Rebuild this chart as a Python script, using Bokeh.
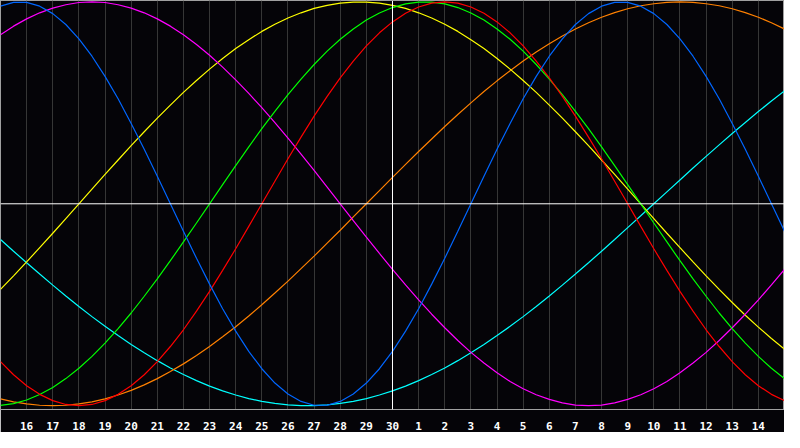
from bokeh.plotting import figure
from bokeh.models import FixedTicker, Span, ColumnDataSource
from bokeh.embed import file_html
from bokeh.resources import INLINE

# Day labels along the bottom (previous month 15 .. this month 15)
day_labels = ["15", "16", "17", "18", "19", "20", "21", "22", "23", "24", "25", "26",
              "27", "28", "29", "30", "1", "2", "3", "4", "5", "6", "7", "8", "9",
              "10", "11", "12", "13", "14", "15"]
today_label = "30"

# Cycle levels (-1..1), read every half day from the first "15" to the last "15"
physical = [.979, .998, .998, .979, .942, .888, .817, .731, .631, .520, .398, .270, .136,
            0, -.136, -.270, -.398, -.520, -.631, -.731, -.817, -.888, -.942, -.979,
            -.998, -.998, -.979, -.942, -.888, -.817, -.731, -.631, -.520, -.398, -.270,
            -.136, 0, .136, .270, .398, .520, .631, .731, .817, .888, .942, .979, .998,
            .998, .979, .942, .888, .817, .731, .631, .520, .398, .270, .136, 0, -.136]
emotional = [-.782, -.847, -.901, -.944, -.975, -.994, -1.0, -.994, -.975, -.944, -.901,
             -.847, -.782, -.707, -.624, -.532, -.434, -.330, -.223, -.112, 0, .112, .223,
             .330, .434, .532, .624, .707, .782, .847, .901, .944, .975, .994, 1.0, .994,
             .975, .944, .901, .847, .782, .707, .624, .532, .434, .330, .223, .112, 0,
             -.112, -.223, -.330, -.434, -.532, -.624, -.707, -.782, -.847, -.901, -.944,
             -.975]
intellectual = [-.999, -.990, -.972, -.945, -.910, -.866, -.815, -.756, -.690, -.618,
                -.541, -.458, -.372, -.282, -.189, -.095, 0, .095, .189, .282, .372, .458,
                .541, .618, .690, .756, .815, .866, .910, .945, .972, .990, .999, .999,
                .990, .972, .945, .910, .866, .815, .756, .690, .618, .541, .458, .372,
                .282, .189, .095, 0, -.095, -.189, -.282, -.372, -.458, -.541, -.618,
                -.690, -.756, -.815, -.866]
intuitive = [.837, .880, .916, .946, .969, .986, .997, 1.0, .997, .986, .969, .946, .916,
             .880, .837, .789, .736, .677, .614, .547, .476, .402, .325, .246, .165, .083,
             0, -.083, -.165, -.246, -.325, -.402, -.476, -.547, -.614, -.677, -.736,
             -.789, -.837, -.880, -.916, -.946, -.969, -.986, -.997, -1.0, -.997, -.986,
             -.969, -.946, -.916, -.880, -.837, -.789, -.736, -.677, -.614, -.547, -.476,
             -.402, -.325]
aesthetic = [-.424, -.357, -.288, -.217, -.146, -.073, 0, .073, .146, .217, .288, .357,
             .424, .489, .552, .611, .667, .720, .769, .813, .854, .889, .920, .946, .968,
             .983, .994, .999, .999, .994, .983, .968, .946, .920, .889, .854, .813, .769,
             .720, .667, .611, .552, .489, .424, .357, .288, .217, .146, .073, 0, -.073,
             -.146, -.217, -.288, -.357, -.424, -.489, -.552, -.611, -.667, -.720]
awareness = [-.966, -.981, -.991, -.998, -1.0, -.998, -.991, -.981, -.966, -.947, -.924,
             -.897, -.866, -.831, -.793, -.752, -.707, -.659, -.609, -.556, -.500, -.442,
             -.383, -.321, -.259, -.195, -.131, -.065, 0, .065, .131, .195, .259, .321,
             .383, .442, .500, .556, .609, .659, .707, .752, .793, .831, .866, .897, .924,
             .947, .966, .981, .991, .998, 1.0, .998, .991, .981, .966, .947, .924, .897,
             .866]
spiritual = [-.177, -.235, -.292, -.348, -.403, -.457, -.509, -.559, -.607, -.653, -.697,
             -.738, -.777, -.813, -.846, -.876, -.903, -.927, -.947, -.965, -.979, -.989,
             -.996, -1.0, -1.0, -.996, -.989, -.979, -.965, -.947, -.927, -.903, -.876,
             -.846, -.813, -.777, -.738, -.697, -.653, -.607, -.559, -.509, -.457, -.403,
             -.348, -.292, -.235, -.177, -.118, -.059, 0, .059, .118, .177, .235, .292,
             .348, .403, .457, .509, .559]

series = [
    ("spiritual", spiritual, "#00ffff"),
    ("awareness", awareness, "#ff8000"),
    ("aesthetic", aesthetic, "#ffff00"),
    ("intuitive", intuitive, "#ff00ff"),
    ("intellectual", intellectual, "#00ff00"),
    ("emotional", emotional, "#ff0000"),
    ("physical", physical, "#0066ff"),
]

BG = "#050408"
n = len(day_labels)
days = list(range(n))
half_days = [k / 2 for k in range(len(physical))]
today_idx = day_labels.index(today_label)

p = figure(width=784, height=432, output_backend="svg", toolbar_location=None,
           x_range=(0, n - 1), y_range=(-1.019, 1.007), y_axis_location=None,
           min_border_left=0, min_border_right=0, min_border_top=0, min_border_bottom=0,
           background_fill_color=BG, border_fill_color=BG,
           outline_line_color="#a0a0a0", outline_line_width=1)

# grid
p.xgrid.ticker = FixedTicker(ticks=days)
p.xgrid.grid_line_color = "#363636"
p.xgrid.grid_line_width = 1
p.ygrid.grid_line_color = None

# axis with day labels
ticks = days[1:-1]
p.xaxis.ticker = FixedTicker(ticks=ticks)
p.xaxis.major_label_overrides = {i: day_labels[i] for i in ticks}
p.xaxis.axis_line_color = "#a0a0a0"
p.xaxis.major_tick_line_color = None
p.xaxis.minor_tick_line_color = None
p.xaxis.major_label_text_color = "white"
p.xaxis.major_label_text_font = "DejaVu Sans Mono"
p.xaxis.major_label_text_font_style = "bold"
p.xaxis.major_label_text_font_size = "11px"
p.xaxis.major_label_standoff = 6

# center lines
p.add_layout(Span(location=0, dimension="width", line_color="white", line_width=1))
p.add_layout(Span(location=today_idx, dimension="height", line_color="white", line_width=1))

for name, vals, col in series:
    src = ColumnDataSource(dict(x=half_days, y=vals))
    p.line("x", "y", source=src, line_color=col, line_width=1.2)

open("out.html", "w").write(file_html(p, INLINE))
